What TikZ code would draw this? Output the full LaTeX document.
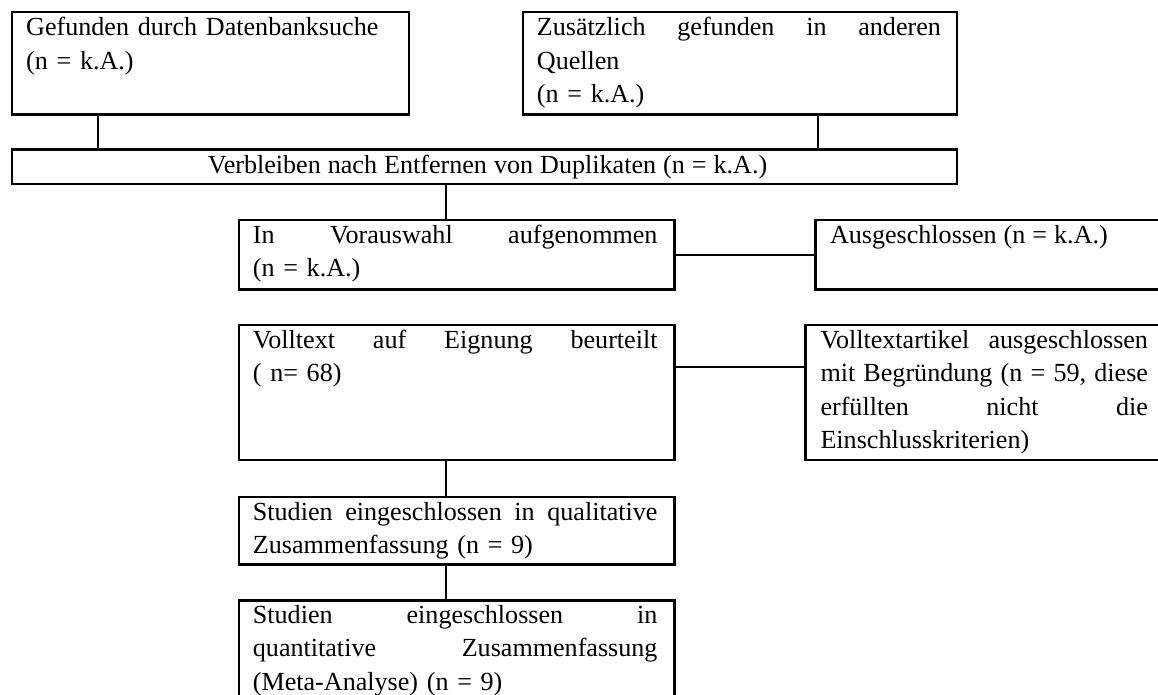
\documentclass[tikz,border=0pt]{standalone}
\usepackage{fontspec}
\setmainfont{Liberation Serif}
% body text of the boxes: Times-sized, slightly wide word spaces
\newcommand\boxtextfont{\fontsize{26.1pt}{33.3pt}\selectfont\spaceskip=7pt\relax}
\begin{document}
\begin{tikzpicture}[x=1pt,y=-1pt,
  box/.style={draw, line width=2.3pt, rectangle, inner sep=0pt, anchor=north west},
  txt/.style={inner sep=0pt, anchor=base west, align=left, font=\boxtextfont},
  link/.style={line width=2.3pt}]
\clip (0,0) rectangle (1158,695);
% boxes
\node[box, minimum width=396.5pt, minimum height=102.3pt] (db) at (11,11) {};
\node[box, minimum width=434pt, minimum height=102.3pt] (src) at (521.7,11) {};
\node[box, minimum width=944.7pt, minimum height=34.4pt] (dup) at (11,148.3) {};
\node[box, minimum width=435.6pt, minimum height=69.3pt] (pre) at (237.7,219) {};
\node[box, minimum width=352pt, minimum height=69.3pt] (exc) at (814.3,219) {};
\node[box, minimum width=435.6pt, minimum height=135pt] (ft) at (237.7,324) {};
\node[box, minimum width=362pt, minimum height=135pt] (ftx) at (804.3,324) {};
\node[box, minimum width=435.6pt, minimum height=67.6pt] (qual) at (237.7,495.7) {};
\node[box, minimum width=435.6pt, minimum height=110pt] (quant) at (237.7,599.3) {};
% texts
\node[txt, text width=366pt] (dbt) at ([xshift=15pt,yshift=-24.8pt]db.north west)
  {Gefunden durch Datenbanksuche\\(n = k.A.)};
\node[txt, text width=404pt] (srct) at ([xshift=15pt,yshift=-24.8pt]src.north west)
  {Zusätzlich\hfill gefunden\hfill in\hfill anderen\\Quellen\\(n = k.A.)};
\node[txt, anchor=base] (dupt) at ([xshift=3pt,yshift=-24.8pt]dup.north)
  {Verbleiben nach Entfernen von Duplikaten (n = k.A.)};
\node[txt, text width=404.6pt] (pret) at ([xshift=15pt,yshift=-24.5pt]pre.north west)
  {In\hfill Vorauswahl\hfill aufgenommen\\(n = k.A.)};
\node[txt] (exct) at ([xshift=15.5pt,yshift=-24.5pt]exc.north west)
  {Ausgeschlossen (n = k.A.)};
\node[txt, text width=404.6pt] (ftt) at ([xshift=15pt,yshift=-24.5pt]ft.north west)
  {Volltext\hfill auf\hfill Eignung\hfill beurteilt\\( n= 68)};
\node[txt, text width=327.5pt] (ftxt) at ([xshift=16pt,yshift=-24.5pt]ftx.north west)
  {Volltextartikel\hfill ausgeschlossen\\mit\hfill Begründung\hfill (n\hfill =\hfill 59,\hfill diese\\erfüllten\hfill nicht\hfill die\\Einschlusskriterien)};
\node[txt, text width=404.6pt] (qualt) at ([xshift=15pt,yshift=-24.5pt]qual.north west)
  {Studien\hfill eingeschlossen\hfill in\hfill qualitative\\Zusammenfassung (n = 9)};
\node[txt, text width=404.6pt] (quantt) at ([xshift=15pt,yshift=-24.3pt]quant.north west)
  {Studien\hfill eingeschlossen\hfill in\\quantitative\hfill Zusammenfassung\\(Meta-Analyse) (n = 9)};
% connectors
\draw[link] ([xshift=87.3pt]db.south west) -- ([xshift=87.3pt]dup.north west);
\draw[link] ([xshift=296pt]src.south west) -- ([xshift=806.7pt]dup.north west);
\draw[link] ([xshift=435pt]dup.south west) -- ([xshift=208.3pt]pre.north west);
\draw[link] (pre.east) -- (exc.west);
\draw[link] ([yshift=-43pt]ft.north east) -- ([yshift=-43pt]ftx.north west);
\draw[link] ([xshift=208.3pt]ft.south west) -- ([xshift=208.3pt]qual.north west);
\draw[link] ([xshift=208.3pt]qual.south west) -- ([xshift=208.3pt]quant.north west);
\end{tikzpicture}
\end{document}
